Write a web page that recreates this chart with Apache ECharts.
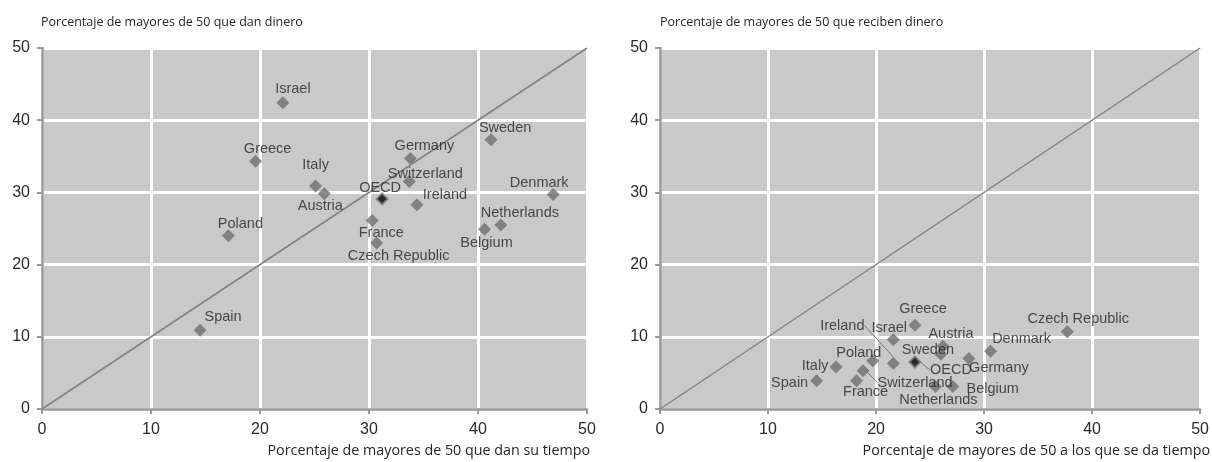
<!DOCTYPE html>
<html>
<head>
<meta charset="utf-8">
<title>Dar y recibir dinero y tiempo</title>
<script src="https://cdn.jsdelivr.net/npm/echarts@6/dist/echarts.min.js"></script>
<style>
  html, body { margin: 0; padding: 0; background: #fff; }
  #main { width: 1212px; height: 462px; }
</style>
</head>
<body>
<div id="main"></div>
<script>
// paises, en el mismo orden en todas las listas
var countries = ['Israel', 'Greece', 'Italy', 'Austria', 'Poland', 'OECD', 'France', 'Czech Republic',
	'Germany', 'Switzerland', 'Ireland', 'Sweden', 'Denmark', 'Netherlands', 'Belgium', 'Spain'];

// grafico izquierdo: dan tiempo (x) / dan dinero (y)
var giveTime  = [22.1, 19.6, 25.1, 25.9, 17.1, 31.2, 30.3, 30.7, 33.8, 33.7, 34.4, 41.2, 46.9, 42.1, 40.6, 14.5];
var giveMoney = [42.4, 34.3, 30.9, 29.8, 24.0, 29.1, 26.1, 23.0, 34.7, 31.5, 28.3, 37.3, 29.7, 25.5, 24.9, 10.9];

// grafico derecho: reciben tiempo (x) / reciben dinero (y)
var receiveTime  = [21.6, 23.6, 16.3, 26.2, 19.7, 23.6, 18.2, 37.7, 28.6, 18.8, 21.6, 26.0, 30.6, 25.5, 27.1, 14.5];
var receiveMoney = [9.6, 11.6, 5.8, 8.7, 6.7, 6.5, 3.9, 10.7, 7.0, 5.3, 6.3, 7.6, 8.0, 3.1, 3.1, 3.9];

// linea de 45 grados
var diagonal = [[0, 0], [50, 50]];

// desplazamiento de cada etiqueta respecto a su punto (px)
var leftOffsets = {
	'Israel': [10, -14], 'Greece': [12, -12], 'Italy': [0, -21], 'Austria': [-4, 12],
	'Poland': [12, -12], 'OECD': [-2, -11], 'France': [9, 12], 'Czech Republic': [22, 13],
	'Germany': [14, -12], 'Switzerland': [16, -8], 'Ireland': [28, -10], 'Sweden': [14, -12],
	'Denmark': [-14, -12], 'Netherlands': [19, -12], 'Belgium': [2, 14], 'Spain': [23, -13]
};
var rightOffsets = {
	'Israel': [-4, -12], 'Greece': [8, -16], 'Italy': [-21, -1], 'Austria': [8, -12],
	'Poland': [-14, -8], 'OECD': [36, 8], 'France': [9, 11], 'Czech Republic': [11, -13],
	'Germany': [30, 10], 'Switzerland': [52, 12], 'Ireland': [-51, -38], 'Sweden': [-13, -4],
	'Denmark': [31, -12], 'Netherlands': [3, 13], 'Belgium': [40, 2], 'Spain': [-27, 2]
};
var rightLeaders = ['Ireland', 'Switzerland', 'OECD'];

var labelFont = '"Liberation Sans", Arial, sans-serif';
var titleFont = '"Open Sans", "Noto Sans", sans-serif';

function buildPoints(xs, ys, leaders) {
	return countries.map(function(name, i) {
		var item = { name: name, value: [xs[i], ys[i]] };
		if (name === 'OECD') {
			item.symbolSize = 11;
			item.itemStyle = { color: '#000', borderColor: '#7a7a7a', borderWidth: 2 };
		}
		if (leaders && leaders.indexOf(name) >= 0) {
			item.labelLine = { show: true };
		}
		return item;
	});
}

function axisX(idx) {
	return {
		type: 'value', gridIndex: idx, min: 0, max: 50, interval: 10,
		axisLine: { show: true, onZero: false, lineStyle: { color: '#999', width: 2.5 } },
		axisTick: { show: true, length: 5, lineStyle: { color: '#999', width: 2 } },
		axisLabel: { margin: 13, fontSize: 16, color: '#2a2a2a', fontFamily: labelFont },
		splitLine: { show: true, lineStyle: { color: '#fff', width: 3 } }
	};
}
function axisY(idx) {
	return {
		type: 'value', gridIndex: idx, min: 0, max: 50, interval: 10,
		axisLine: { show: true, onZero: false, lineStyle: { color: '#999', width: 2.5 } },
		axisTick: { show: true, length: 5, lineStyle: { color: '#999', width: 2 } },
		axisLabel: { margin: 12, fontSize: 16, color: '#2a2a2a', fontFamily: labelFont },
		splitLine: { show: true, lineStyle: { color: '#fff', width: 3 } }
	};
}

function scatter(idx, data, offsets) {
	return {
		type: 'scatter', xAxisIndex: idx, yAxisIndex: idx,
		symbol: 'diamond', symbolSize: 13,
		itemStyle: { color: '#6f6f6f' },
		data: data,
		z: 5,
		label: {
			show: true, position: 'inside', formatter: '{b}',
			fontSize: 14.5, color: '#262626', fontFamily: labelFont
		},
		labelLine: { show: false, lineStyle: { color: '#777', width: 1 } },
		labelLayout: function(params) {
			var o = offsets[countries[params.dataIndex]];
			return { dx: o[0], dy: o[1] };
		},
		emphasis: { disabled: true }
	};
}

function diagonalLine(idx) {
	return {
		type: 'line', xAxisIndex: idx, yAxisIndex: idx,
		data: diagonal, symbol: 'none', silent: true, z: 3,
		lineStyle: { color: '#828282', width: 1.5 }
	};
}

var titleStyle = { fontSize: 12.5, fontWeight: 'normal', color: '#262626', fontFamily: titleFont, lineHeight: 17 };
var nameStyle = { fontSize: 14.3, fontWeight: 'normal', color: '#262626', fontFamily: titleFont, lineHeight: 18 };

var myChart = echarts.init(document.getElementById('main'));

var option = {
	animation: false,
	title: [
		{ text: 'Porcentaje de mayores de 50 que dan dinero', left: 41, top: 14, padding: 0, textStyle: titleStyle },
		{ text: 'Porcentaje de mayores de 50 que reciben dinero', left: 660, top: 14, padding: 0, textStyle: titleStyle },
		{ text: 'Porcentaje de mayores de 50 que dan su tiempo', right: 622, top: 442, padding: 0, textStyle: nameStyle },
		{ text: 'Porcentaje de mayores de 50 a los que se da tiempo', right: 2, top: 442, padding: 0, textStyle: nameStyle }
	],
	grid: [
		{ left: 42, top: 48, width: 545, height: 361, show: true, backgroundColor: '#c9c9c9', borderWidth: 0 },
		{ left: 660, top: 48, width: 543, height: 361, show: true, backgroundColor: '#c9c9c9', borderWidth: 0 }
	],
	xAxis: [axisX(0), axisX(1)],
	yAxis: [axisY(0), axisY(1)],
	series: [
		diagonalLine(0),
		diagonalLine(1),
		scatter(0, buildPoints(giveTime, giveMoney), leftOffsets),
		scatter(1, buildPoints(receiveTime, receiveMoney, rightLeaders), rightOffsets)
	]
};

myChart.setOption(option);
</script>
</body>
</html>
